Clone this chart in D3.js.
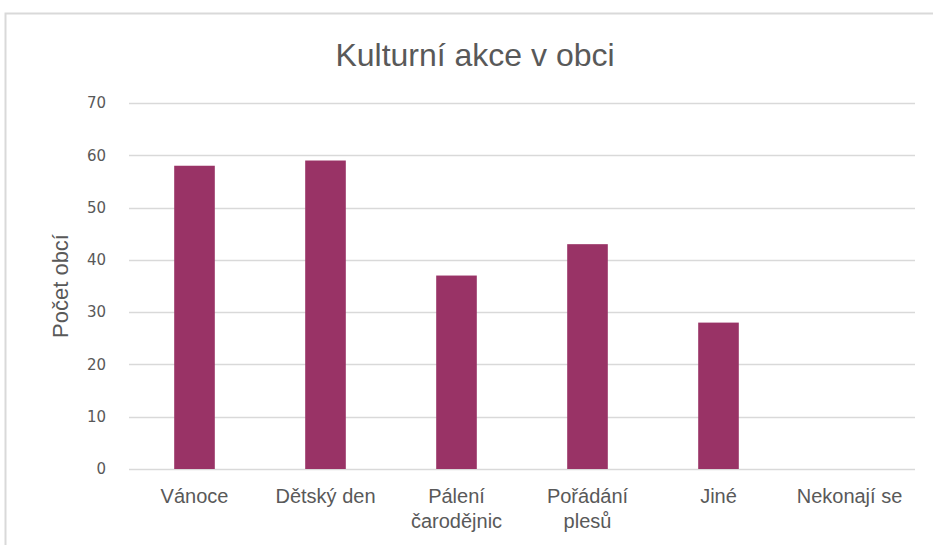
<!DOCTYPE html>
<html>
<head>
<meta charset="utf-8">
<script src="https://cdn.jsdelivr.net/npm/d3@7"></script>
<style>
  body { margin: 0; background: #fff; }
  text { font-family: "Liberation Sans", sans-serif; fill: #595959; }
</style>
</head>
<body>
<svg id="chart"></svg>
<script>
// data
var categories = ["Vánoce", "Dětský den", "Pálení čarodějnic", "Pořádání plesů", "Jiné", "Nekonají se"];
var labelLines = [["Vánoce"], ["Dětský den"], ["Pálení", "čarodějnic"], ["Pořádání", "plesů"], ["Jiné"], ["Nekonají se"]];
var values = [58, 59, 37, 43, 28, 0];
var yTicks = [0, 10, 20, 30, 40, 50, 60, 70];

var width = 933,
    height = 545;

var margin = {top: 103, right: 18, bottom: 76, left: 129};

var svg = d3.select("#chart")
    .attr("width", width)
    .attr("height", height);

// chart area border (only top and left visible)
svg.append("rect")
    .attr("x", 5.5)
    .attr("y", 13.5)
    .attr("width", width + 10)
    .attr("height", height + 10)
    .attr("fill", "none")
    .attr("stroke", "#d9d9d9")
    .attr("stroke-width", 2);

var x = d3.scaleBand()
    .domain(categories)
    .range([margin.left, width - margin.right])
    .paddingInner(0.69)
    .paddingOuter(0.345);

var y = d3.scaleLinear()
    .domain([0, 70])
    .range([height - margin.bottom, margin.top]);

// gridlines
svg.append("g")
    .selectAll("line")
    .data(yTicks)
  .enter().append("line")
    .attr("x1", margin.left)
    .attr("x2", width - margin.right)
    .attr("y1", function(d) { return Math.round(y(d)) + 0.5; })
    .attr("y2", function(d) { return Math.round(y(d)) + 0.5; })
    .attr("stroke", "#d9d9d9")
    .attr("stroke-width", 1.3);

// y tick labels
svg.append("g")
    .selectAll("text")
    .data(yTicks)
  .enter().append("text")
    .attr("x", 106)
    .attr("y", function(d) { return y(d); })
    .attr("dy", "0.35em")
    .attr("text-anchor", "end")
    .style("font-family", "'DejaVu Sans', sans-serif")
    .style("font-size", "15px")
    .text(function(d) { return d; });

// bars
svg.append("g")
    .selectAll("rect")
    .data(values)
  .enter().append("rect")
    .attr("x", function(d, i) { return x(categories[i]); })
    .attr("y", function(d) { return y(d); })
    .attr("width", x.bandwidth())
    .attr("height", function(d) { return y(0) - y(d); })
    .attr("fill", "#993366");

// x labels
var xl = svg.append("g")
    .selectAll("text")
    .data(categories)
  .enter().append("text")
    .attr("x", function(d) { return x(d) + x.bandwidth() / 2; })
    .attr("y", 503)
    .attr("text-anchor", "middle")
    .style("font-size", "20px");

xl.selectAll("tspan")
    .data(function(d, i) { return labelLines[i]; })
  .enter().append("tspan")
    .attr("x", function() { return d3.select(this.parentNode).attr("x"); })
    .attr("dy", function(d, i) { return i === 0 ? 0 : 25; })
    .text(function(d) { return d; });

// title
svg.append("text")
    .attr("x", 475)
    .attr("y", 66)
    .attr("text-anchor", "middle")
    .style("font-size", "32px")
    .text("Kulturní akce v obci");

// y axis title
svg.append("text")
    .attr("transform", "translate(68," + y(35) + ") rotate(-90)")
    .attr("text-anchor", "middle")
    .style("font-size", "22px")
    .text("Počet obcí");
</script>
</body>
</html>
